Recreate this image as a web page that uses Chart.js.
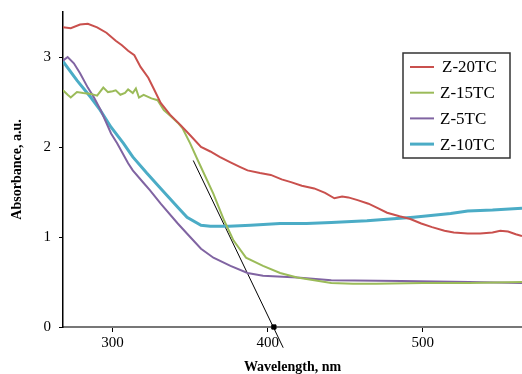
<!DOCTYPE html>
<html>
<head>
<meta charset="utf-8">
<script src="https://cdn.jsdelivr.net/npm/chart.js@4/dist/chart.umd.min.js"></script>
<style>
  html, body { margin: 0; padding: 0; background: #fff; }
  canvas { display: block; }
</style>
</head>
<body>
<canvas id="c" width="522" height="374"></canvas>
<script>
// Absorbance spectra, wavelength in nm
const z20Wl  = [268, 273, 279, 284, 290, 296, 302, 306, 310, 314, 318, 323, 327, 331, 337, 344, 350, 357, 363, 369, 376, 382, 387, 395, 402, 409, 415, 422, 430, 437, 443, 448, 452, 458, 465, 471, 477, 485, 492, 499, 506, 514, 520, 529, 537, 545, 550, 555, 560, 564];
const z20Abs = [3.33, 3.32, 3.36, 3.37, 3.33, 3.27, 3.18, 3.13, 3.07, 3.02, 2.89, 2.77, 2.63, 2.49, 2.36, 2.24, 2.13, 2.00, 1.95, 1.89, 1.83, 1.78, 1.74, 1.71, 1.69, 1.64, 1.61, 1.57, 1.54, 1.49, 1.43, 1.45, 1.44, 1.41, 1.37, 1.32, 1.27, 1.23, 1.20, 1.15, 1.11, 1.07, 1.05, 1.04, 1.04, 1.05, 1.07, 1.06, 1.03, 1.01];

const z15Wl  = [268, 271, 273, 277, 281, 286, 290, 294, 297, 300, 302, 305, 308, 310, 313, 315, 317, 320, 325, 329, 333, 337, 342, 345, 350, 355, 365, 372, 378, 386, 397, 408, 419, 430, 441, 455, 470, 500, 530, 564];
const z15Abs = [2.63, 2.58, 2.55, 2.61, 2.60, 2.59, 2.57, 2.66, 2.61, 2.62, 2.63, 2.58, 2.60, 2.64, 2.60, 2.65, 2.55, 2.58, 2.54, 2.52, 2.41, 2.35, 2.27, 2.21, 2.04, 1.85, 1.48, 1.18, 0.96, 0.77, 0.68, 0.60, 0.55, 0.52, 0.49, 0.48, 0.48, 0.49, 0.49, 0.50];

const z5Wl  = [268, 271, 275, 279, 284, 288, 292, 299, 303, 310, 313, 320, 324, 331, 342, 350, 357, 365, 376, 387, 397, 419, 441, 486, 530, 564];
const z5Abs = [2.96, 3.00, 2.93, 2.82, 2.66, 2.55, 2.42, 2.15, 2.04, 1.82, 1.74, 1.60, 1.52, 1.37, 1.15, 1.00, 0.87, 0.77, 0.68, 0.60, 0.57, 0.55, 0.52, 0.51, 0.50, 0.49];

const z10Wl  = [268, 277, 286, 292, 299, 307, 313, 322, 331, 342, 348, 357, 363, 375, 389, 408, 425, 441, 464, 494, 518, 529, 545, 564];
const z10Abs = [2.95, 2.74, 2.55, 2.41, 2.22, 2.04, 1.89, 1.71, 1.54, 1.33, 1.22, 1.13, 1.12, 1.12, 1.13, 1.15, 1.15, 1.16, 1.18, 1.22, 1.26, 1.29, 1.30, 1.32];

// tangent used for the band-edge estimate, and its intercept
const tangentWl  = [352, 410];
const tangentAbs = [1.85, -0.23];
const edgeWl  = [404];
const edgeAbs = [0];

const xTicks = [300, 400, 500];
const yTicks = [0, 1, 2, 3];

const pts = (xs, ys) => xs.map((x, i) => ({ x, y: ys[i] }));

Chart.defaults.font.family = '"Liberation Serif", "DejaVu Serif", serif';
Chart.defaults.color = "#000";

const series = (label, xs, ys, color, width) => ({
  label, data: pts(xs, ys), borderColor: color, backgroundColor: color,
  borderWidth: width, pointRadius: 0, tension: 0, inLegend: true,
});

// legend drawn inside the plot, like the original figure
const boxLegend = {
  id: "boxLegend",
  afterDraw(chart) {
    const ctx = chart.ctx;
    const items = chart.data.datasets.filter(d => d.inLegend);
    ctx.save();
    ctx.fillStyle = "#fff";
    ctx.fillRect(403, 53, 107, 105);
    ctx.strokeStyle = "#333";
    ctx.lineWidth = 1.5;
    ctx.strokeRect(403, 53, 107, 105);
    ctx.font = '17px "Liberation Serif", serif';
    ctx.textBaseline = "middle";
    items.forEach((d, i) => {
      const y = 67 + i * 25.7;
      ctx.strokeStyle = d.borderColor;
      ctx.lineWidth = d.borderWidth;
      ctx.beginPath();
      ctx.moveTo(410, y);
      ctx.lineTo(434, y);
      ctx.stroke();
      ctx.fillStyle = "#000";
      ctx.fillText(d.label, i === 0 ? 442 : 440, y + 1);
    });
    ctx.restore();
  }
};

new Chart(document.getElementById("c"), {
  type: "line",
  data: {
    datasets: [
      series("Z-20TC", z20Wl, z20Abs, "#C9504D", 2),
      series("Z-15TC", z15Wl, z15Abs, "#9BBB59", 2),
      series("Z-5TC", z5Wl, z5Abs, "#8064A2", 2),
      series("Z-10TC", z10Wl, z10Abs, "#4BACC6", 3),
      {
        label: "tangent", data: pts(tangentWl, tangentAbs),
        borderColor: "#000", borderWidth: 1, pointRadius: 0, clip: false,
      },
      {
        label: "edge", data: pts(edgeWl, edgeAbs), showLine: false,
        pointStyle: "rect", pointRadius: 3, backgroundColor: "#000", borderColor: "#000", clip: false,
      },
    ],
  },
  options: {
    responsive: false,
    animation: false,
    devicePixelRatio: 1,
    layout: { autoPadding: false, padding: { top: 12, right: 0, left: 0, bottom: 0 } },
    plugins: { legend: { display: false }, tooltip: { enabled: false } },
    scales: {
      x: {
        type: "linear", min: 268, max: 564,
        afterBuildTicks: s => { s.ticks = xTicks.map(v => ({ value: v })); },
        afterFit: s => { s.height = 47; s.paddingLeft = 0; s.paddingRight = 0; },
        grid: { drawOnChartArea: false, tickLength: 5, color: "#000", tickWidth: 1 },
        border: { color: "#777", width: 2 },
        ticks: { font: { size: 15 }, padding: 2, maxRotation: 0 },
        title: { display: true, text: "Wavelength, nm", font: { size: 14, weight: "bold", lineHeight: 1 }, padding: { top: 0, bottom: 0 } },
      },
      y: {
        min: 0, max: 3.5,
        afterBuildTicks: s => { s.ticks = yTicks.map(v => ({ value: v })); },
        afterFit: s => { s.width = 63; s.paddingTop = 0; s.paddingBottom = 0; },
        grid: { drawOnChartArea: false, tickLength: 4, color: "#000", tickWidth: 1 },
        border: { color: "#000", width: 1.5 },
        ticks: { font: { size: 15 }, padding: 8 },
        title: { display: true, text: "Absorbance, a.u.", font: { size: 14, weight: "bold", lineHeight: 1 }, padding: { top: 10, bottom: 0 } },
      },
    },
  },
  plugins: [boxLegend],
});
</script>
</body>
</html>
